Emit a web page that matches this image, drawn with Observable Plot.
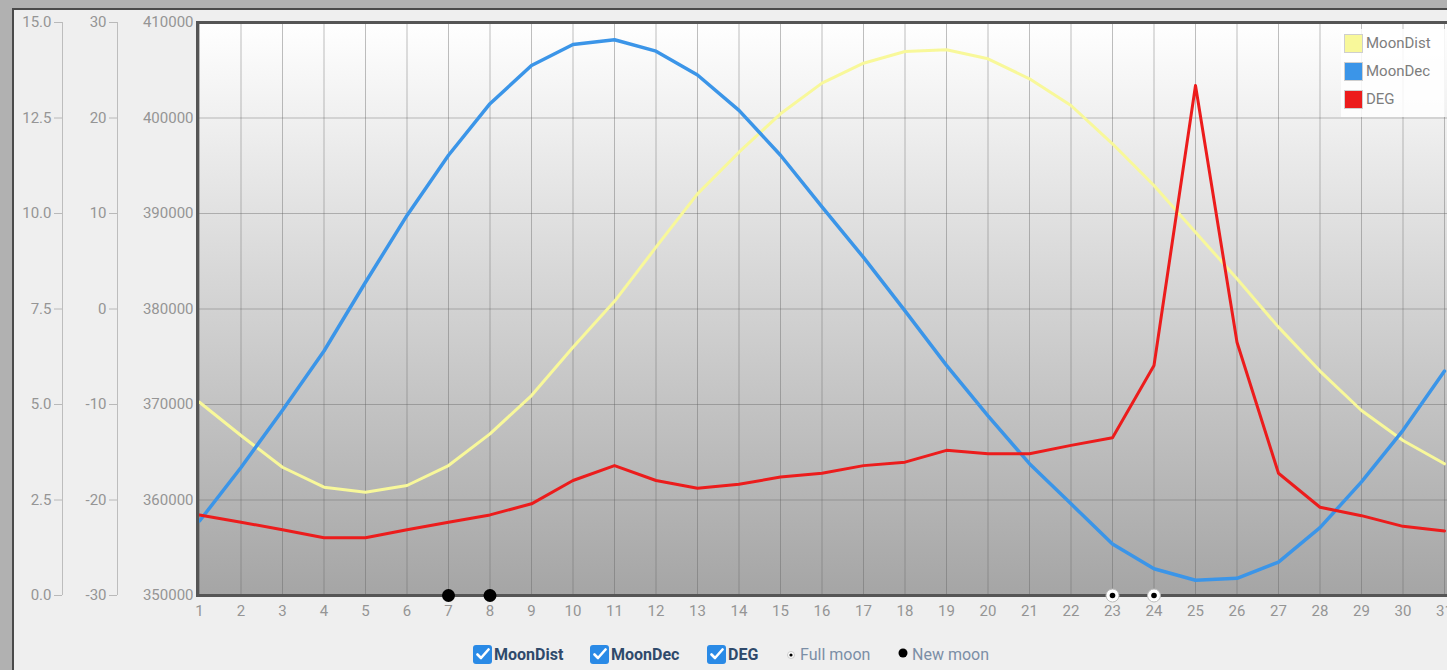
<!DOCTYPE html>
<html>
<head>
<meta charset="utf-8">
<script src="https://cdn.jsdelivr.net/npm/d3@7"></script>
<script src="https://cdn.jsdelivr.net/npm/@observablehq/plot@0.6"></script>
<style>
  html, body { margin: 0; padding: 0; width: 1447px; height: 670px; overflow: hidden; background: #b1b1b1; font-family: Roboto, "Noto Sans", sans-serif; }
  #panel { position: absolute; left: 12px; top: 8px; width: 1480px; height: 700px; background: #efefef; border-left: 2px solid #4a4a4a; border-top: 2px solid #4a4a4a; }
  #chart { position: absolute; left: 0; top: 0; width: 1470px; }
  #chart svg { max-width: none !important; }
  #legendTop { position: absolute; left: 1341px; top: 29px; width: 104px; height: 88px; background: rgba(255,255,255,0.85); }
  #legendTop .item { position: absolute; left: 3px; height: 20px; display: flex; align-items: center; font-size: 15px; color: #7d7d7d; }
  #legendTop .sw { width: 19px; height: 19px; border: 1px solid #cfcfcf; margin-right: 3px; box-sizing: border-box; }
  #legendBottom .el { position: absolute; top: 644px; height: 20px; display: flex; align-items: center; font-size: 16px; }
  .cb { width: 19px; height: 19px; border-radius: 3px; background: #2a8ae6; display: inline-flex; align-items: center; justify-content: center; margin-right: 2px; }
  .lab { color: #2f4a6b; font-weight: bold; }
  .lab2 { color: #7b8ea6; }
</style>
</head>
<body>
<div id="panel"></div>
<div id="chart"></div>
<div id="legendTop"></div>
<div id="legendBottom"></div>
<script>
// ---- data ----
const days = d3.range(1, 32);
const moonDist = [370240, 366750, 363430, 361340, 360820, 361520, 363610, 366930, 370940, 376000,
                  380800, 386470, 392060, 396420, 400440, 403650, 405740, 406960, 407140, 406200,
                  404100, 401310, 397300, 392930, 388040, 383160, 378100, 373500, 369370, 366230, 363790];
const moonDec = [-22.2, -16.6, -10.6, -4.4, 2.8, 9.8, 16.1, 21.5, 25.5, 27.7,
                 28.2, 27.0, 24.5, 20.8, 16.1, 10.7, 5.4, -0.2, -5.9, -11.2,
                 -16.2, -20.4, -24.6, -27.2, -28.4, -28.2, -26.5, -22.9, -18.1, -12.7, -6.5];
const degValues = [2.11, 1.92, 1.72, 1.51, 1.51, 1.72, 1.92, 2.11, 2.40, 3.01,
                   3.40, 3.01, 2.81, 2.91, 3.10, 3.20, 3.40, 3.49, 3.80, 3.71,
                   3.71, 3.93, 4.13, 6.02, 13.35, 6.63, 3.20, 2.31, 2.09, 1.81, 1.69];
const distTicks = [350000, 360000, 370000, 380000, 390000, 400000, 410000];
const decTicks = [-30, -20, -10, 0, 10, 20, 30];
const degTicks = [0, 2.5, 5, 7.5, 10, 12.5, 15];
const newMoonDays = [7, 8];
const fullMoonDays = [23, 24];
const seriesNames = ["MoonDist", "MoonDec", "DEG"];
const seriesColors = ["#f8f89a", "#3b95e8", "#ec1c1c"];

// secondary axes mapped onto the primary (distance) scale
const decToDist = d3.scaleLinear([decTicks[0], decTicks[decTicks.length - 1]], [distTicks[0], distTicks[distTicks.length - 1]]);
const degToDist = d3.scaleLinear([degTicks[0], degTicks[degTicks.length - 1]], [distTicks[0], distTicks[distTicks.length - 1]]);

const rows = days.map((d, i) => ({ day: d, dist: moonDist[i], dec: decToDist(moonDec[i]), deg: degToDist(degValues[i]) }));
const base = distTicks[0];
const axisColor = "#959595";

const plot = Plot.plot({
  width: 1470, height: 640,
  marginLeft: 197, marginRight: 10, marginTop: 22, marginBottom: 45,
  x: { domain: [1, 31], insetLeft: 2, insetRight: 16, axis: null },
  y: { domain: [distTicks[0], distTicks[distTicks.length - 1]], axis: null },
  style: { background: "transparent", fontFamily: "Roboto, 'Noto Sans', sans-serif", fontSize: "15px", overflow: "visible", maxWidth: "none" },
  marks: [
    Plot.frame({ fill: "url(#plotBg)" }),
    Plot.gridX(days, { stroke: "#5e5e5e", strokeOpacity: 0.4 }),
    Plot.gridY(distTicks, { stroke: "#5e5e5e", strokeOpacity: 0.4 }),
    Plot.axisX(days, { anchor: "bottom", tickSize: 0, tickPadding: 10, label: null, tickFormat: d => String(d), color: axisColor }),
    Plot.axisY(distTicks, { anchor: "left", tickSize: 0, tickPadding: 4, label: null, tickFormat: d => String(d), color: axisColor }),
    Plot.axisY(decTicks.map(v => decToDist(v)), { anchor: "left", dx: -80, tickSize: 8, tickPadding: 3, label: null,
      tickFormat: v => String(Math.round(decToDist.invert(v))), color: axisColor, strokeOpacity: 0.6 }),
    Plot.ruleX([1], { y1: distTicks[0], y2: distTicks[distTicks.length - 1], dx: -82, stroke: "#bdbdbd" }),
    Plot.axisY(degTicks.map(v => degToDist(v)), { anchor: "left", dx: -135, tickSize: 8, tickPadding: 3, label: null,
      tickFormat: v => (Math.round(degToDist.invert(v) * 10) / 10).toFixed(1), color: axisColor, strokeOpacity: 0.6 }),
    Plot.ruleX([1], { y1: distTicks[0], y2: distTicks[distTicks.length - 1], dx: -137, stroke: "#bdbdbd" }),
    Plot.line(rows, { x: "day", y: "dist", stroke: seriesColors[0], strokeWidth: 3, strokeLinejoin: "round" }),
    Plot.line(rows, { x: "day", y: "dec", stroke: seriesColors[1], strokeWidth: 3.5, strokeLinejoin: "round" }),
    Plot.line(rows, { x: "day", y: "deg", stroke: seriesColors[2], strokeWidth: 3, strokeLinejoin: "round" }),
    Plot.frame({ stroke: "#555", strokeWidth: 3 }),
    Plot.dot(newMoonDays, { x: d => d, y: () => base, r: 6.5, fill: "#000" }),
    Plot.dot(fullMoonDays, { x: d => d, y: () => base, r: 6.5, fill: "#fff", stroke: "#bbb", strokeWidth: 1 }),
    Plot.dot(fullMoonDays, { x: d => d, y: () => base, r: 2.8, fill: "#000" })
  ]
});
plot.style.maxWidth = "none";
plot.setAttribute("width", 1470);

const svg = d3.select(plot);
const defs = svg.insert("defs", ":first-child");
const grad = defs.append("linearGradient").attr("id", "plotBg").attr("x1", 0).attr("y1", 0).attr("x2", 0).attr("y2", 1);
grad.append("stop").attr("offset", "0%").attr("stop-color", "#ffffff");
grad.append("stop").attr("offset", "100%").attr("stop-color", "#a5a5a5");
document.getElementById("chart").appendChild(plot);

// top-right legend
const lt = d3.select("#legendTop");
seriesNames.forEach((name, i) => {
  const it = lt.append("div").attr("class", "item").style("top", (4 + i * 28) + "px");
  it.append("div").attr("class", "sw").style("background", seriesColors[i]);
  it.append("span").text(name);
});

// bottom legend
const lb = d3.select("#legendBottom");
const check = '<svg width="14" height="12" viewBox="0 0 14 12"><path d="M1.5 6.5 L5 10 L12.5 1.5" fill="none" stroke="#fff" stroke-width="2.6" stroke-linecap="round" stroke-linejoin="round"/></svg>';
const cbLeft = [473, 590, 707];
seriesNames.forEach((name, i) => {
  const el = lb.append("div").attr("class", "el").style("left", cbLeft[i] + "px");
  el.append("span").attr("class", "cb").html(check);
  el.append("span").attr("class", "lab").text(name);
});
const fm = lb.append("div").attr("class", "el").style("left", "786px");
fm.append("span").html('<svg width="14" height="20"><circle cx="5" cy="13" r="3.5" fill="#fff" stroke="#ccc"/><circle cx="5" cy="13" r="1.6" fill="#000"/></svg>');
fm.append("span").attr("class", "lab2").text("Full moon");
const nm = lb.append("div").attr("class", "el").style("left", "897px");
nm.append("span").html('<svg width="15" height="20"><circle cx="6" cy="11" r="4.5" fill="#000"/></svg>');
nm.append("span").attr("class", "lab2").text("New moon");
</script>
</body>
</html>
